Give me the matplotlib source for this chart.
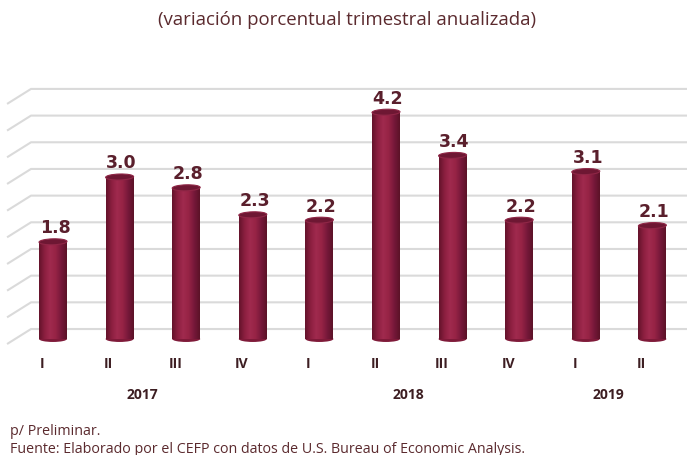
import matplotlib.pyplot as plt
import numpy as np
from matplotlib.patches import Ellipse
from matplotlib.colors import LinearSegmentedColormap

# Datos
trimestres = ["I", "II", "III", "IV", "I", "II", "III", "IV", "I", "II"]
valores = [1.8, 3.0, 2.8, 2.3, 2.2, 4.2, 3.4, 2.2, 3.1, 2.1]
anios = ["2017", "2018", "2019"]
trimestres_por_anio = [4, 4, 2]
titulo = "(variación porcentual trimestral anualizada)"
nota = "p/ Preliminar."
fuente = "Fuente: Elaborado por el CEFP con datos de U.S. Bureau of Economic Analysis."

color_texto = "#5b2a2e"
color_valor = "#5a1f2c"
color_grid = "#dadada"

fig = plt.figure(figsize=(6.87, 4.56), dpi=100)
ax = fig.add_axes([0, 0, 1, 1])
ax.set_xlim(-0.796, 9.52)
ax.set_ylim(-2.148, 6.296)
ax.axis("off")

# pared del fondo con perspectiva
desfase = 0.185
escala_fondo = 0.988
for g in np.arange(0, 4.51, 0.5):
    yb = desfase + g * escala_fondo
    ax.plot([-0.69, -0.33, 9.52], [yb - 0.278, yb, yb], color=color_grid, lw=1.5,
            solid_capstyle="butt", zorder=1)

# barras cilíndricas
cmap = LinearSegmentedColormap.from_list(
    "cil", ["#64132b", "#8c1f40", "#a02a4e", "#962345", "#76183a", "#5c1227"])
grad = np.linspace(0, 1, 64).reshape(1, -1)
ancho = 0.42
x = np.arange(len(valores))
barras = ax.bar(x, valores, width=ancho, color="#8e1f41", zorder=3)
for xi, v, b in zip(x, valores, barras):
    base = Ellipse((xi, 0), ancho, 0.11, facecolor="#7f1a39", edgecolor="none", zorder=2.9)
    ax.add_patch(base)
    im = ax.imshow(grad, cmap=cmap, aspect="auto", zorder=3.1,
                   extent=(xi - ancho / 2, xi + ancho / 2, 0, v))
    im.set_clip_path(b)
    tapa = Ellipse((xi, v), ancho, 0.11, angle=2, facecolor="#6e1733",
                   edgecolor="#8f2646", lw=0.8, zorder=3.5)
    ax.add_patch(tapa)
    ax.text(xi + 0.03, v + 0.27, f"{v:.1f}", ha="center", va="center",
            fontsize=12.5, fontweight="bold", color=color_valor, zorder=4)

# etiquetas del eje
for xi, t in zip(x, trimestres):
    ax.text(xi - 0.165, -0.44, t, ha="center", va="center", fontsize=10,
            fontweight="bold", color="#3d1e22", family="Open Sans")

inicio = 0
for a, n in zip(anios, trimestres_por_anio):
    centro = np.mean(x[inicio:inicio + n]) - 0.165
    ax.text(centro, -1.02, a, ha="center", va="center", fontsize=10,
            fontweight="bold", color="#3d1e22", family="Open Sans")
    inicio += n

fig.text(0.505, 0.956, titulo, ha="center", va="center", fontsize=13.4,
         color=color_texto, family="Open Sans")
fig.text(0.0146, 0.053, nota, ha="left", va="center", fontsize=10.3,
         color=color_texto, family="Open Sans")
fig.text(0.0146, 0.015, fuente, ha="left", va="center", fontsize=10.3,
         color=color_texto, family="Open Sans")

plt.savefig("out.png", dpi=100)
